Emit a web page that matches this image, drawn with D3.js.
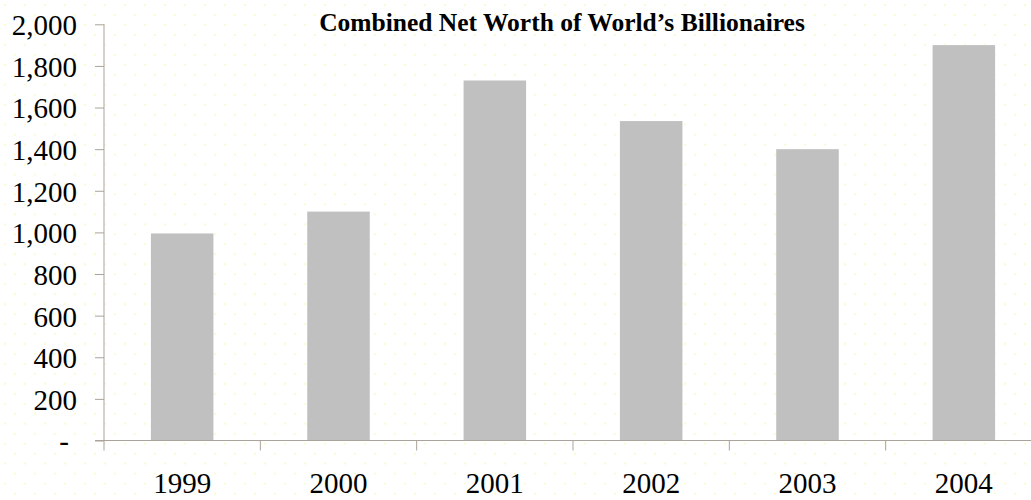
<!DOCTYPE html>
<html>
<head>
<meta charset="utf-8">
<script src="https://cdn.jsdelivr.net/npm/d3@7"></script>
<style>
  html, body { margin: 0; padding: 0; background: #fff; }
  svg { display: block; }
  text { font-family: "Liberation Serif", "Times New Roman", serif; fill: #000; }
</style>
</head>
<body>
<svg id="chart" width="1031" height="500"></svg>
<script>
// Combined net worth of the world's billionaires, US$ billions
const years = ["1999", "2000", "2001", "2002", "2003", "2004"];
const netWorth = [995, 1100, 1730, 1535, 1400, 1900];
const yTicks = [0, 200, 400, 600, 800, 1000, 1200, 1400, 1600, 1800, 2000];
const titleText = "Combined Net Worth of World\u2019s Billionaires";

const W = 1031, H = 500;
const plotLeft = 104, plotRight = 1042, plotTop = 24.3, plotBottom = 440.5;
const axisColor = "#aba39b";
const labelSize = 29;

const svg = d3.select("#chart");

// pale dotted paper background
const defs = svg.append("defs");
const pat = defs.append("pattern")
  .attr("id", "dots")
  .attr("patternUnits", "userSpaceOnUse")
  .attr("width", 20).attr("height", 19.94);
pat.append("rect").attr("x", 4).attr("y", 4).attr("width", 2).attr("height", 2).attr("fill", "#fbfbd2");
pat.append("rect").attr("x", 14).attr("y", 14).attr("width", 2).attr("height", 2).attr("fill", "#fbfbd2");
svg.append("rect").attr("width", W).attr("height", H).attr("fill", "url(#dots)");

const x = d3.scaleBand().domain(years).range([plotLeft, plotRight])
  .paddingInner(0.6).paddingOuter(0.3);
const y = d3.scaleLinear().domain([0, 2000]).range([plotBottom, plotTop]);

// bars
svg.append("g").selectAll("rect")
  .data(years.map((yr, i) => ({ yr, v: netWorth[i] })))
  .join("rect")
  .attr("x", d => x(d.yr))
  .attr("width", x.bandwidth())
  .attr("y", d => y(d.v))
  .attr("height", d => y(0) - y(d.v))
  .attr("fill", "#c0c0c0");

// value axis
const yAxis = d3.axisLeft(y)
  .tickValues(yTicks)
  .tickSize(9)
  .tickPadding(18)
  .tickFormat(d => d === 0 ? "-" : d3.format(",")(d));
const gy = svg.append("g").attr("transform", `translate(${plotLeft},0)`).call(yAxis);
gy.select(".domain").remove();
gy.selectAll(".tick line").attr("stroke", axisColor);
gy.selectAll(".tick text")
  .attr("font-size", labelSize)
  .attr("dy", "0.36em")
  .attr("dx", d => d === 0 ? -8 : 0)
  .style("font-family", "'Liberation Serif', 'Times New Roman', serif");
gy.append("line")
  .attr("x1", 0).attr("x2", 0)
  .attr("y1", y(2000)).attr("y2", plotBottom + 10)
  .attr("stroke", axisColor);

// category axis
const xAxis = d3.axisBottom(x).tickSize(0).tickPadding(32);
const gx = svg.append("g").attr("transform", `translate(0,${plotBottom})`).call(xAxis);
gx.select(".domain").remove();
gx.selectAll(".tick text")
  .attr("font-size", labelSize)
  .style("font-family", "'Liberation Serif', 'Times New Roman', serif");
gx.append("line")
  .attr("x1", plotLeft - 9).attr("x2", W)
  .attr("y1", 0).attr("y2", 0)
  .attr("stroke", axisColor);
// tick marks between categories
gx.selectAll(".sep")
  .data(years.slice(1))
  .join("line")
  .attr("class", "sep")
  .attr("x1", d => x(d) - x.step() * x.paddingInner() / 2)
  .attr("x2", d => x(d) - x.step() * x.paddingInner() / 2)
  .attr("y1", 0).attr("y2", 10)
  .attr("stroke", axisColor);

// title
svg.append("text")
  .attr("x", 562).attr("y", 31)
  .attr("text-anchor", "middle")
  .attr("font-size", 25.5)
  .attr("font-weight", "bold")
  .text(titleText);
</script>
</body>
</html>
